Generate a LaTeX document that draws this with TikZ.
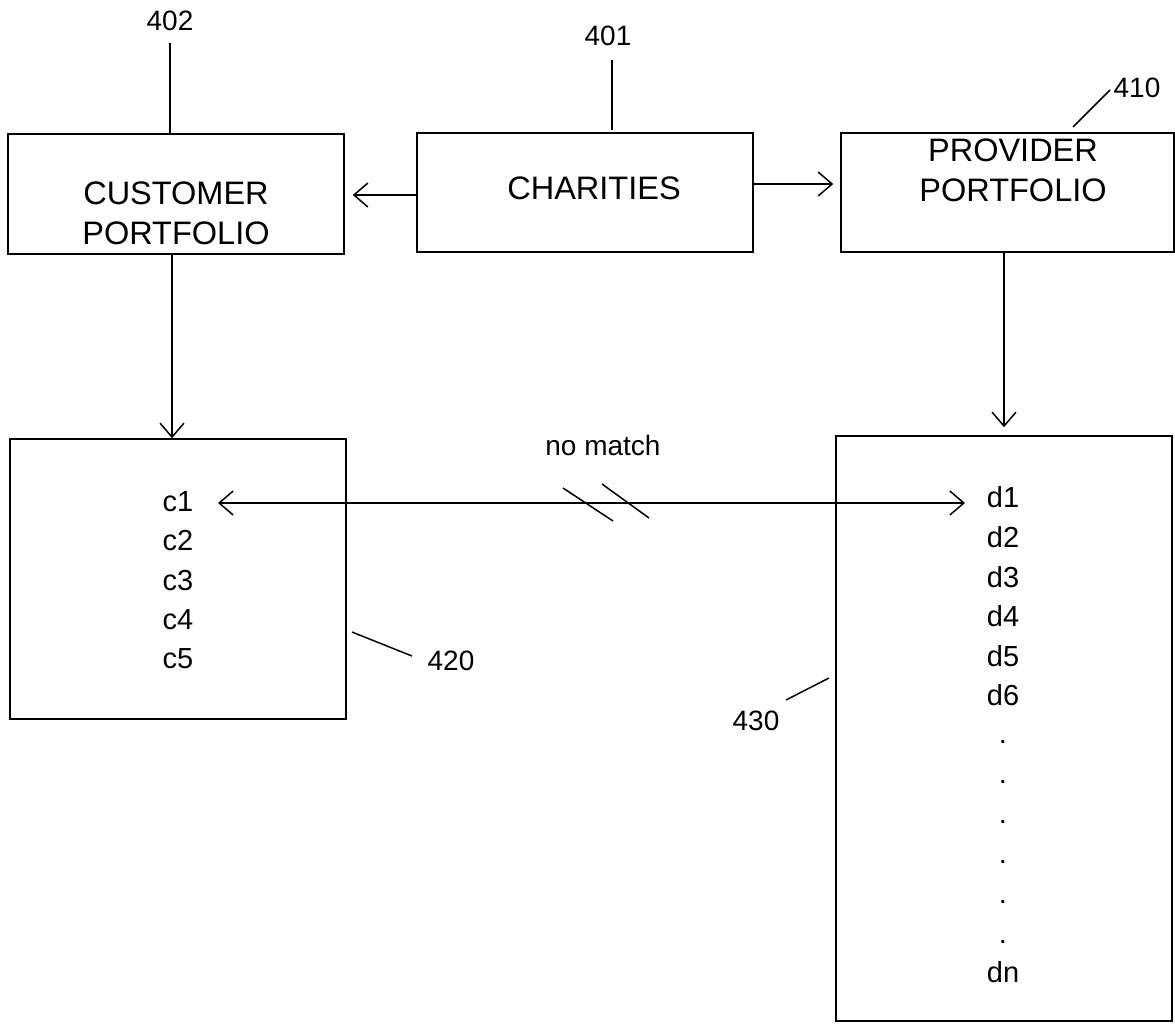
\documentclass[tikz,border=0pt]{standalone}
\usepackage{fontspec}
\setmainfont{Liberation Sans}
\usetikzlibrary{arrows.meta}
\begin{document}
\begin{tikzpicture}[x=1pt,y=-1pt,
  boxnode/.style={draw, line width=1.5pt, minimum width=#1, inner sep=0pt},
  big/.style={font=\fontsize{32.5}{40}\selectfont, inner sep=0pt, align=center},
  item/.style={font=\fontsize{29}{34}\selectfont, inner sep=0pt},
  num/.style={font=\fontsize{28}{32}\selectfont, inner sep=0pt},
  lead/.style={line width=1.5pt},
  arr/.style={line width=1.5pt, -{Straight Barb[length=14pt,width=24pt,line width=1.5pt]}},
  darr/.style={line width=1.5pt, {Straight Barb[length=14pt,width=24pt,line width=1.5pt]}-{Straight Barb[length=14pt,width=24pt,line width=1.5pt]}}]
\useasboundingbox (0,0) rectangle (1175,1023);

% top boxes
\node[boxnode=336pt, minimum height=120pt] (cust) at (176,194) {};
\node[big] (custtext) at (176,213) {CUSTOMER\\PORTFOLIO};
\node[boxnode=336pt, minimum height=119pt] (char) at (585,192.5) {};
\node[big] (chartext) at (594,188) {CHARITIES};
\node[boxnode=333pt, minimum height=119pt] (prov) at (1007.5,192.5) {};
\node[big] (provtext) at (1013,170) {PROVIDER\\PORTFOLIO};

% bottom boxes
\node[boxnode=336pt, minimum height=280pt] (boxc) at (178,579) {};
\node[boxnode=336pt, minimum height=585pt] (boxd) at (1004,728.5) {};

% items
\node[item] (c1) at (178,502) {c1};
\node[item] (c2) at (178,541) {c2};
\node[item] (c3) at (178,581) {c3};
\node[item] (c4) at (178,620) {c4};
\node[item] (c5) at (178,659) {c5};

\node[item] (d1) at (1003,497) {d1};
\node[item] (d2) at (1003,537) {d2};
\node[item] (d3) at (1003,577) {d3};
\node[item] (d4) at (1003,616) {d4};
\node[item] (d5) at (1003,656) {d5};
\node[item] (d6) at (1003,695) {d6};
\foreach \i/\yy in {1/742,2/782,3/822,4/862,5/902,6/942}
  \node[item] (dot\i) at (1003,\yy) {.};
\node[item] (dn) at (1003,972) {dn};

% reference numerals
\node[num] (n402) at (170,21) {402};
\node[num] (n401) at (608,36) {401};
\node[num] (n410) at (1137,88) {410};
\node[num] (n420) at (451,661) {420};
\node[num] (n430) at (756,721) {430};

\coordinate (l402a) at (170,43);
\draw[lead] (l402a) -- (cust.north -| l402a);
\coordinate (l401a) at (612,60);
\draw[lead] (l401a) -- (612,130);
\coordinate (l410a) at (1110,90);
\coordinate (l410b) at (1073,127);
\draw[lead] (l410a) -- (l410b);
\coordinate (l420a) at (352,632);
\coordinate (l420b) at (412,656);
\draw[lead] (l420a) -- (l420b);
\coordinate (l430a) at (829,678);
\coordinate (l430b) at (786,700);
\draw[lead] (l430a) -- (l430b);

% arrows
\draw[arr, shorten >=8pt] ([yshift=-2.5pt]char.west) -- ([yshift=-2.5pt]char.west -| cust.east);
\draw[arr, shorten >=7pt] ([yshift=8.5pt]char.east) -- ([yshift=8.5pt]char.east -| prov.west);
\draw[arr] (cust.south -| 172,0) -- (boxc.north -| 172,0);
\draw[arr, shorten >=8pt] (prov.south -| boxd.north) -- (boxd.north);

% no match
\node[item, font=\fontsize{28}{32}\selectfont] (nomatch) at (603,445) {no match};
\coordinate (cl) at (218,503);
\coordinate (dl) at (965,503);
\draw[darr] (cl) -- (dl);
\draw[lead] (563,488) -- (613,521);
\draw[lead] (602,484) -- (649,518);
\end{tikzpicture}
\end{document}
